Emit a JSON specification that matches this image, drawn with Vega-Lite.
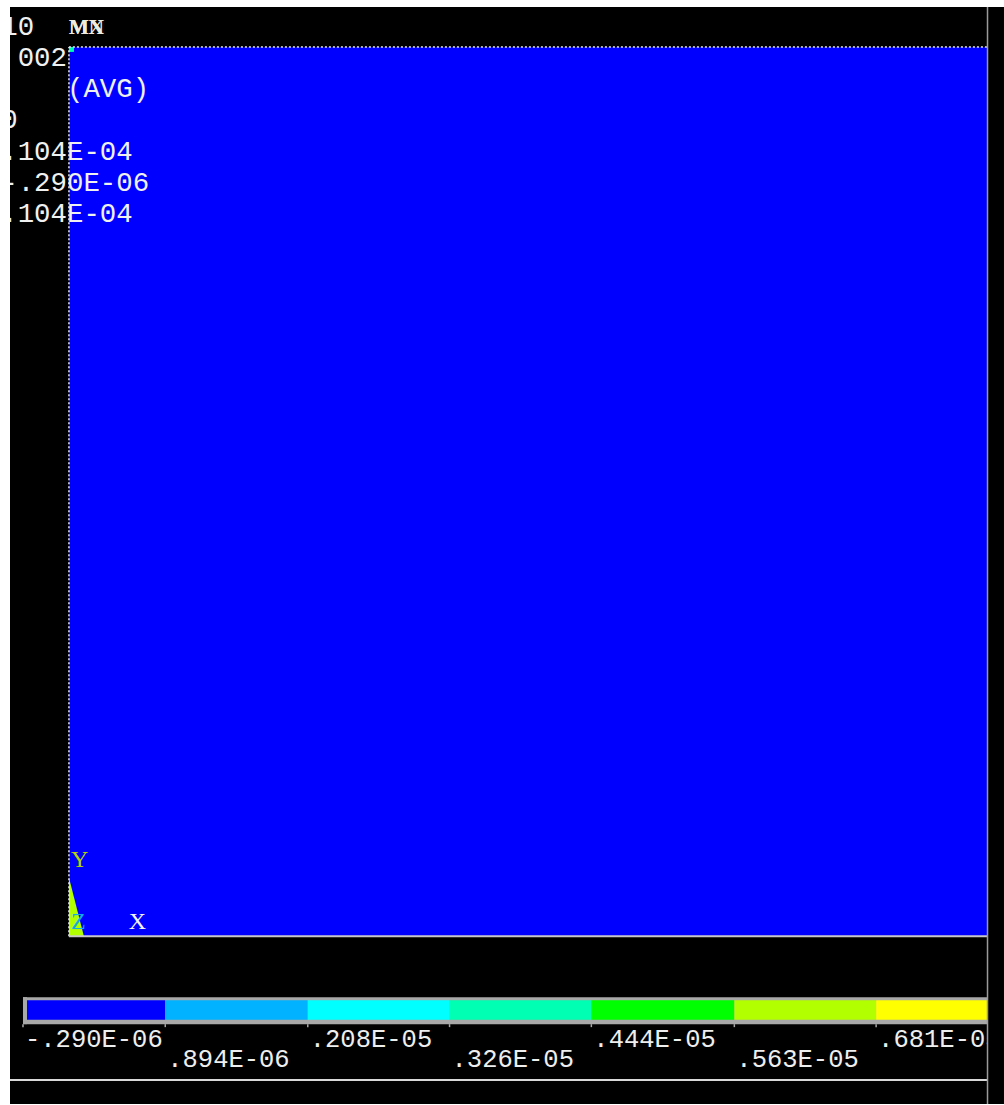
{
  "$schema": "https://vega.github.io/schema/vega-lite/v6.json",
  "width": 1004,
  "height": 1105,
  "autosize": {"type": "fit", "contains": "padding"},
  "padding": {"left": 9, "top": 6, "right": 0, "bottom": 0},
  "background": "#ffffff",
  "config": {
    "view": {"fill": "#000000", "stroke": null},
    "axis": {"disable": true},
    "legend": {"disable": true}
  },
  "datasets": {
    "elements": [
      {"part": "plate", "X0": 0, "X1": 1.032, "Y0": 0, "Y1": 1, "UY": 2e-7},
      {"part": "corner", "X0": 0, "X1": 0.0056, "Y0": 0.9944, "Y1": 1, "UY": 3.5e-6}
    ],
    "cornerZone": [
      {"X": 0, "Ytop": 0.0662, "Ybase": 0, "UY": 5.8e-6},
      {"X": 0.0168, "Ytop": 0, "Ybase": 0, "UY": 5.8e-6}
    ],
    "extremes": [
      {"label": "MX", "X": 0, "Y": 1},
      {"label": "MN", "X": 0, "Y": 1}
    ],
    "listing": [
      {"text": "10"},
      {"text": "002"},
      {"text": "(AVG)"},
      {"text": "0"},
      {"text": ".104E-04"},
      {"text": "-.290E-06"},
      {"text": ".104E-04"}
    ],
    "bands": [
      {"lower": -2.90e-7, "upper": 8.94e-7, "label": "-.290E-06"},
      {"lower": 8.94e-7, "upper": 2.08e-6, "label": ".894E-06"},
      {"lower": 2.08e-6, "upper": 3.26e-6, "label": ".208E-05"},
      {"lower": 3.26e-6, "upper": 4.44e-6, "label": ".326E-05"},
      {"lower": 4.44e-6, "upper": 5.63e-6, "label": ".444E-05"},
      {"lower": 5.63e-6, "upper": 6.81e-6, "label": ".563E-05"},
      {"lower": 6.81e-6, "upper": 8.00e-6, "label": ".681E-05"},
      {"lower": 8.00e-6, "upper": 9.18e-6, "label": ".800E-05"},
      {"lower": 9.18e-6, "upper": 1.04e-5, "label": ".918E-05"}
    ]
  },
  "layer": [
    {
      "layer": [
        {
          "data": {"name": "elements"},
          "mark": {"type": "rect"},
          "encoding": {
            "x": {"field": "X0", "type": "quantitative", "scale": {"domain": [-0.066218, 1.050505], "nice": false, "zero": false}},
            "x2": {"field": "X1"},
            "y": {"field": "Y0", "type": "quantitative", "scale": {"domain": [-0.188552, 1.044893], "nice": false, "zero": false}},
            "y2": {"field": "Y1"},
            "color": {
              "field": "UY", "type": "quantitative",
              "scale": {
                "type": "threshold",
                "domain": [8.94e-7, 2.08e-6, 3.26e-6, 4.44e-6, 5.63e-6, 6.81e-6, 8.00e-6, 9.18e-6],
                "range": ["#0000FF", "#00B2FF", "#00FFFF", "#00FFB2", "#00FF00", "#B2FF00", "#FFFF00", "#FFB200", "#FF0000"]
              }
            }
          }
        },
        {
          "data": {"name": "cornerZone"},
          "mark": {"type": "area", "orient": "vertical", "interpolate": "linear"},
          "encoding": {
            "x": {"field": "X", "type": "quantitative"},
            "y": {"field": "Ytop", "type": "quantitative"},
            "y2": {"field": "Ybase"},
            "color": {
              "field": "UY", "type": "quantitative",
              "scale": {
                "type": "threshold",
                "domain": [8.94e-7, 2.08e-6, 3.26e-6, 4.44e-6, 5.63e-6, 6.81e-6, 8.00e-6, 9.18e-6],
                "range": ["#0000FF", "#00B2FF", "#00FFFF", "#00FFB2", "#00FF00", "#B2FF00", "#FFFF00", "#FFB200", "#FF0000"]
              }
            }
          }
        },
        {
          "data": {"values": [{}]},
          "mark": {"type": "rule", "color": "#E6E6F0", "strokeWidth": 1.5, "strokeDash": [2, 2]},
          "encoding": {"x": {"datum": 0}, "x2": {"datum": 1.032}, "y": {"datum": 1}}
        },
        {
          "data": {"values": [{}]},
          "mark": {"type": "rule", "color": "#E6E6F0", "strokeWidth": 1.5, "strokeDash": [2, 2]},
          "encoding": {"x": {"datum": 0}, "y": {"datum": 0}, "y2": {"datum": 1}}
        },
        {
          "data": {"values": [{}]},
          "mark": {"type": "rule", "color": "#C8C8C8", "strokeWidth": 2},
          "encoding": {"x": {"datum": 0}, "x2": {"datum": 1.032}, "y": {"datum": 0}}
        },
        {
          "data": {"name": "extremes"},
          "mark": {"type": "text", "align": "left", "baseline": "alphabetic", "dy": -13, "font": "Liberation Serif", "fontWeight": "bold", "fontSize": 21, "color": "#ECECE0"},
          "encoding": {
            "x": {"field": "X", "type": "quantitative"},
            "y": {"field": "Y", "type": "quantitative"},
            "text": {"field": "label"}
          }
        },
        {
          "data": {"values": [{}]},
          "mark": {"type": "text", "align": "left", "baseline": "alphabetic", "font": "Liberation Serif", "fontSize": 24, "color": "#B4D400"},
          "encoding": {"x": {"datum": 0.00224}, "y": {"datum": 0.0774}, "text": {"value": "Y"}}
        },
        {
          "data": {"values": [{}]},
          "mark": {"type": "text", "align": "left", "baseline": "alphabetic", "font": "Liberation Serif", "fontSize": 24, "color": "#10A8E8"},
          "encoding": {"x": {"datum": 0.00224}, "y": {"datum": 0.00786}, "text": {"value": "Z"}}
        },
        {
          "data": {"values": [{}]},
          "mark": {"type": "text", "align": "left", "baseline": "alphabetic", "font": "Liberation Serif", "fontSize": 24, "color": "#F4F4F4"},
          "encoding": {"x": {"datum": 0.0673}, "y": {"datum": 0.00786}, "text": {"value": "X"}}
        }
      ]
    },
    {
      "data": {"name": "listing"},
      "transform": [{"window": [{"op": "row_number", "as": "line"}]}],
      "layer": [
        {
          "transform": [{"filter": "datum.line != 2 && datum.line != 3"}],
          "mark": {"type": "text", "align": "left", "baseline": "alphabetic", "font": "Liberation Mono", "fontSize": 27.4, "color": "#F0F0F0", "clip": true},
          "encoding": {
            "x": {"datum": -0.07605, "type": "quantitative", "scale": {"domain": [-0.066218, 1.050505], "nice": false, "zero": false}},
            "y": {"field": "line", "type": "quantitative", "scale": {"domain": [0.102564, 35.326923], "reverse": true, "nice": false, "zero": false}},
            "text": {"field": "text"}
          }
        },
        {
          "transform": [{"filter": "datum.line == 2"}],
          "mark": {"type": "text", "align": "left", "baseline": "alphabetic", "font": "Liberation Mono", "fontSize": 27.4, "color": "#F0F0F0", "clip": true},
          "encoding": {
            "x": {"datum": -0.0576, "type": "quantitative"},
            "y": {"field": "line", "type": "quantitative"},
            "text": {"field": "text"}
          }
        },
        {
          "transform": [{"filter": "datum.line == 3"}],
          "mark": {"type": "text", "align": "left", "baseline": "alphabetic", "font": "Liberation Mono", "fontSize": 27.4, "color": "#F0F0F0", "clip": true},
          "encoding": {
            "x": {"datum": -0.002245, "type": "quantitative"},
            "y": {"field": "line", "type": "quantitative"},
            "text": {"field": "text"}
          }
        }
      ]
    },
    {
      "layer": [
        {
          "data": {"values": [{}]},
          "mark": {"type": "rect", "color": "#A8A8A8"},
          "encoding": {
            "x": {"datum": -2.90e-7, "type": "quantitative", "scale": {"domain": [-3.9808e-7, 7.874214e-6], "nice": false, "zero": false}},
            "x2": {"datum": 7.736991e-6},
            "y": {"datum": -0.068462, "type": "quantitative", "scale": {"domain": [-0.188552, 1.044893], "nice": false, "zero": false}},
            "y2": {"datum": -0.098765}
          }
        },
        {
          "data": {"name": "bands"},
          "mark": {"type": "rect", "clip": true},
          "encoding": {
            "x": {"field": "lower", "type": "quantitative"},
            "x2": {"field": "upper"},
            "y": {"datum": -0.07183},
            "y2": {"datum": -0.09372},
            "color": {
              "field": "lower", "type": "quantitative",
              "scale": {
                "type": "threshold",
                "domain": [8.94e-7, 2.08e-6, 3.26e-6, 4.44e-6, 5.63e-6, 6.81e-6, 8.00e-6, 9.18e-6],
                "range": ["#0000FF", "#00B2FF", "#00FFFF", "#00FFB2", "#00FF00", "#B2FF00", "#FFFF00", "#FFB200", "#FF0000"]
              }
            }
          }
        },
        {
          "data": {"values": [{}]},
          "mark": {"type": "rule", "color": "#A8A8A8", "strokeWidth": 4, "xOffset": 2},
          "encoding": {"x": {"datum": -2.90e-7}, "y": {"datum": -0.068462}, "y2": {"datum": -0.098765}}
        },
        {
          "data": {"name": "bands"},
          "mark": {"type": "rule", "color": "#A8A8A8", "strokeWidth": 1.5, "clip": true},
          "encoding": {"x": {"field": "lower", "type": "quantitative"}, "y": {"datum": -0.098765}, "y2": {"datum": -0.10213}}
        },
        {
          "data": {"name": "bands"},
          "transform": [{"window": [{"op": "row_number", "as": "i"}]}, {"filter": "datum.i % 2 == 1"}],
          "mark": {"type": "text", "align": "left", "baseline": "alphabetic", "dx": 2, "font": "Liberation Mono", "fontSize": 25.5, "color": "#EEEEEE", "clip": true},
          "encoding": {"x": {"field": "lower", "type": "quantitative"}, "y": {"datum": -0.12458}, "text": {"field": "label"}}
        },
        {
          "data": {"name": "bands"},
          "transform": [{"window": [{"op": "row_number", "as": "i"}]}, {"filter": "datum.i % 2 == 0"}],
          "mark": {"type": "text", "align": "left", "baseline": "alphabetic", "dx": 2, "font": "Liberation Mono", "fontSize": 25.5, "color": "#EEEEEE", "clip": true},
          "encoding": {"x": {"field": "lower", "type": "quantitative"}, "y": {"datum": -0.14703}, "text": {"field": "label"}}
        },
        {
          "data": {"values": [{}]},
          "mark": {"type": "rule", "color": "#D8D8D8", "strokeWidth": 2},
          "encoding": {"x": {"datum": -3.9808e-7}, "x2": {"datum": 7.736991e-6}, "y": {"datum": -0.161616}}
        },
        {
          "data": {"values": [{}]},
          "mark": {"type": "rect", "color": "#000000"},
          "encoding": {"x": {"datum": 7.736991e-6}, "x2": {"datum": 7.874214e-6}, "y": {"datum": -0.188552}, "y2": {"datum": 1.044893}}
        },
        {
          "data": {"values": [{}]},
          "mark": {"type": "rule", "color": "#9A9A9A", "strokeWidth": 1.5},
          "encoding": {"x": {"datum": 7.736991e-6}, "y": {"datum": -0.188552}, "y2": {"datum": 1.044893}}
        }
      ]
    }
  ],
  "resolve": {"scale": {"x": "independent", "y": "independent"}}
}
